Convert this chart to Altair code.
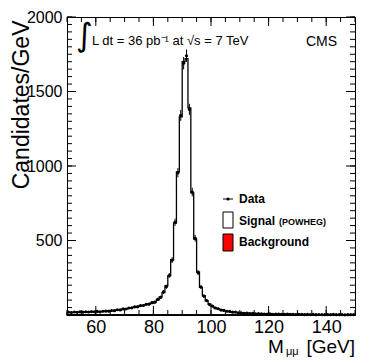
import altair as alt
import pandas as pd
import numpy as np

FONT = "Liberation Sans"

# 1 GeV bins, low edges 50..149
bin_lo = list(range(50, 150))

signal = [
    17, 18, 18, 19, 19, 20, 20, 21, 21, 22,
    22, 23, 24, 25, 27, 29, 31, 33, 36, 39,
    42, 45, 49, 53, 57, 61, 65, 70, 75, 80,
    88, 102, 122, 150, 195, 262, 372, 617, 960, 1330,
    1700, 1720, 1390, 820, 510, 290, 185, 130, 95, 72,
    58, 48, 41, 35, 30, 26, 23, 20, 18, 16,
    14, 13, 12, 11, 10, 9, 9, 8, 8, 7,
    7, 6, 6, 6, 5, 5, 5, 5, 4, 4,
    4, 4, 4, 4, 3, 3, 3, 3, 3, 3,
    3, 3, 3, 2, 2, 2, 2, 2, 2, 2,
]

data_vals = [
    19, 16, 20, 18, 21, 19, 22, 20, 23, 21,
    24, 21, 25, 26, 26, 30, 29, 35, 34, 41,
    40, 47, 48, 55, 55, 63, 64, 72, 73, 83,
    86, 105, 118, 155, 190, 265, 368, 622, 955, 1340,
    1690, 1740, 1380, 825, 515, 285, 188, 127, 97, 70,
    60, 47, 42, 33, 31, 25, 24, 19, 19, 15,
    15, 12, 13, 10, 11, 8, 9, 8, 7, 7,
    8, 5, 6, 7, 5, 4, 6, 5, 4, 3,
    4, 5, 3, 4, 3, 4, 2, 3, 3, 2,
    3, 2, 4, 2, 2, 3, 1, 2, 2, 2,
]

background = [
    3, 3, 3, 3, 2, 2, 2, 2, 2, 2,
    2, 2, 2, 2, 2, 2, 2, 2, 2, 2,
    2, 2, 2, 2, 2, 2, 2, 2, 2, 2,
    2, 2, 2, 2, 2, 2, 2, 2, 2, 2,
    2, 2, 2, 2, 2, 2, 2, 2, 1, 1,
    1, 1, 1, 1, 1, 1, 1, 1, 1, 1,
    1, 1, 1, 1, 1, 1, 1, 1, 1, 1,
    1, 1, 1, 1, 1, 1, 1, 1, 1, 1,
    1, 1, 1, 1, 1, 1, 1, 1, 1, 1,
    1, 1, 1, 1, 1, 1, 1, 1, 1, 1,
]

x_label_vals = [60, 80, 100, 120, 140]
y_label_vals = [500, 1000, 1500, 2000]
x_minor = list(range(50, 151, 5))
y_minor = list(range(0, 2001, 50))
y_major = [0, 500, 1000, 1500, 2000]

y_title = "Candidates/GeV"
lumi_text = "L dt = 36 pb\u207b\u00b9 at  \u221as = 7 TeV"
cms_text = "CMS"
legend_labels = ["Data", "Signal", "(POWHEG)", "Background"]

W, H = 288, 298

edges = bin_lo + [150]
df_hist = pd.DataFrame({
    "edge": edges,
    "sig": signal + [signal[-1]],
    "bkg": background + [background[-1]],
})
df_data = pd.DataFrame({
    "lo": bin_lo,
    "hi": [b + 1 for b in bin_lo],
    "c": [b + 0.5 for b in bin_lo],
    "v": data_vals,
})
err = np.sqrt(df_data["v"].astype(float))
df_data["elo"] = df_data["v"] - err
df_data["ehi"] = df_data["v"] + err

xs = alt.Scale(domain=[50, 150], nice=False, zero=False)
ys = alt.Scale(domain=[0, 2000], nice=False, zero=True)

xaxis = alt.Axis(values=x_label_vals, title="", ticks=False, domain=False, grid=False, format="d",
                 labelFont=FONT, labelFontSize=18, labelColor="black", labelPadding=3)
yaxis = alt.Axis(values=y_label_vals, title=y_title, ticks=False, domain=False, grid=False, format="d",
                 labelFont=FONT, labelFontSize=16, labelColor="black", labelPadding=5,
                 titleFont=FONT, titleFontSize=23, titleFontWeight="normal", titleColor="black",
                 titleAngle=270, titleAlign="right", titleBaseline="alphabetic",
                 titleX=-39, titleY=3)

hist = alt.Chart(df_hist).mark_area(
    interpolate="step-after", fill="white", stroke="black", strokeWidth=1.3
).encode(x=alt.X("edge:Q", scale=xs, axis=xaxis), y=alt.Y("sig:Q", scale=ys, axis=yaxis))

bkg = alt.Chart(df_hist).mark_area(
    interpolate="step-after", fill="red", stroke="black", strokeWidth=1
).encode(x=alt.X("edge:Q", scale=xs, axis=xaxis), y=alt.Y("bkg:Q", scale=ys, axis=yaxis))

ebars = alt.Chart(df_data).mark_rule(color="black", strokeWidth=1).encode(
    x=alt.X("c:Q", scale=xs, axis=xaxis), y=alt.Y("elo:Q", scale=ys, axis=yaxis), y2="ehi:Q")
xbars = alt.Chart(df_data).mark_rule(color="black", strokeWidth=1).encode(
    x=alt.X("lo:Q", scale=xs, axis=xaxis), x2="hi:Q", y=alt.Y("v:Q", scale=ys, axis=yaxis))
pts = alt.Chart(df_data).mark_circle(color="black", size=10, opacity=1).encode(
    x=alt.X("c:Q", scale=xs, axis=xaxis), y=alt.Y("v:Q", scale=ys, axis=yaxis))


def xticks(vals, y0, y1):
    return alt.Chart(pd.DataFrame({"t": vals})).mark_rule(color="black", strokeWidth=1).encode(
        x=alt.X("t:Q", scale=xs, axis=xaxis), y=alt.value(y0), y2=alt.value(y1))


def yticks(vals, x0, x1):
    return alt.Chart(pd.DataFrame({"t": vals})).mark_rule(color="black", strokeWidth=1).encode(
        y=alt.Y("t:Q", scale=ys, axis=yaxis), x=alt.value(x0), x2=alt.value(x1))


ticks = [
    xticks(x_label_vals, H, H - 9), xticks(x_minor, H, H - 5),
    xticks(x_label_vals, 0, 9), xticks(x_minor, 0, 5),
    yticks(y_major, 0, 9), yticks(y_minor, 0, 5),
    yticks(y_major, W, W - 9), yticks(y_minor, W, W - 5),
]

one = pd.DataFrame({"a": [0]})


def txt(s, x, y, size, align="left", baseline="middle", weight="normal", font=FONT):
    return alt.Chart(one).mark_text(text=s, align=align, baseline=baseline, fontSize=size,
                                    fontWeight=weight, font=font, color="black").encode(
        x=alt.value(x), y=alt.value(y))


texts = [
    txt("\u222b", 9, 19, 32, font="DejaVu Sans"),
    txt(lumi_text, 25, 24, 13),
    txt(cms_text, 239, 25, 14),
    txt(legend_labels[0], 172, 182, 12, weight="bold"),
    txt(legend_labels[1], 172, 204, 12, weight="bold"),
    txt(legend_labels[2], 212, 205, 9, weight="bold"),
    txt(legend_labels[3], 172, 225, 12, weight="bold"),
    txt("M", 201, 336, 19, baseline="alphabetic"),
    txt("\u03bc\u03bc", 219, 338, 11, baseline="alphabetic"),
    txt("[GeV]", 288, 336, 19, align="right", baseline="alphabetic"),
]

leg_data_line = alt.Chart(one).mark_rule(color="black", strokeWidth=1).encode(
    x=alt.value(156), x2=alt.value(166), y=alt.value(182))
leg_data_pt = alt.Chart(one).mark_circle(color="black", size=10, opacity=1).encode(
    x=alt.value(161), y=alt.value(182))
leg_sig = alt.Chart(one).mark_rect(fill="white", stroke="black", strokeWidth=1).encode(
    x=alt.value(156), x2=alt.value(166), y=alt.value(195), y2=alt.value(211))
leg_bkg = alt.Chart(one).mark_rect(fill="red", stroke="black", strokeWidth=1).encode(
    x=alt.value(156), x2=alt.value(166), y=alt.value(217), y2=alt.value(234))

chart = alt.layer(
    hist, bkg, ebars, xbars, pts, *ticks, *texts,
    leg_data_line, leg_data_pt, leg_sig, leg_bkg,
).properties(
    width=W, height=H,
    autosize=alt.AutoSizeParams(type="none"),
    padding={"left": 59, "top": 9, "right": 11, "bottom": 43},
).configure_view(stroke="black", strokeWidth=1)

chart.save("out.html", embed_options={"renderer": "svg", "actions": False})
